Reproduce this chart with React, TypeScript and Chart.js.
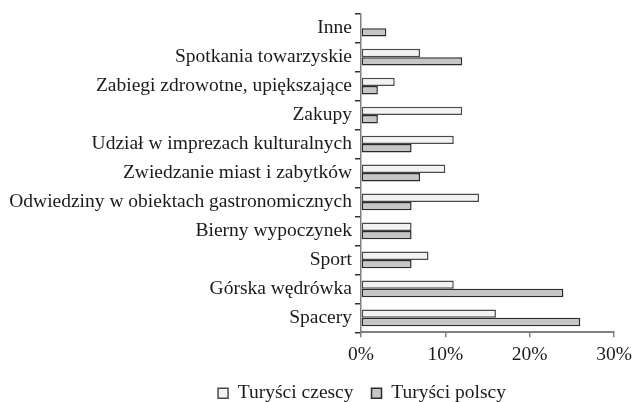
import React, { useEffect, useRef } from "react";
import { Chart, registerables } from "chart.js";

Chart.register(...registerables);

const categories = [
  "Inne",
  "Spotkania towarzyskie",
  "Zabiegi zdrowotne, upiększające",
  "Zakupy",
  "Udział w imprezach kulturalnych",
  "Zwiedzanie miast i zabytków",
  "Odwiedziny w obiektach gastronomicznych",
  "Bierny wypoczynek",
  "Sport",
  "Górska wędrówka",
  "Spacery",
];
const czechTourists = [null, 7, 4, 12, 11, 10, 14, 6, 8, 11, 16];
const polishTourists = [3, 12, 2, 2, 6, 7, 6, 6, 6, 24, 26];
const seriesNames = ["Turyści czescy", "Turyści polscy"];
const xMin = 0;
const xMax = 30;
const xStep = 10;

const FONT = '"Liberation Serif", "Times New Roman", serif';
const FONT_SIZE = 19.5;
const TEXT = "#1a1a1a";

const W = 632;
const H = 402;
const PLOT_LEFT = 361;
const PLOT_RIGHT = 614;
const PLOT_TOP = 13.7;
const PLOT_BOTTOM = 332.3;
const LEGEND_SHIFT = 46;
const LEGEND_TOP = 365.5;

const layoutFix = {
  id: "layoutFix",
  beforeDraw(chart: any) {
    const l = chart.legend;
    if (l) {
      const h = l.height;
      l.left = LEGEND_SHIFT;
      l.right = chart.width + LEGEND_SHIFT;
      l.top = LEGEND_TOP;
      l.bottom = LEGEND_TOP + h;
    }
    const x = chart.scales.x;
    if (x) x.bottom = H;
  },
};

export default function App() {
  const ref = useRef<HTMLCanvasElement | null>(null);
  useEffect(() => {
    if (!ref.current) return;
    const chart = new Chart(ref.current, {
      type: "bar",
      data: {
        labels: categories,
        datasets: [
          {
            label: seriesNames[0],
            data: czechTourists,
            backgroundColor: "#f2f2f2",
            borderColor: "#4a4a4a",
            borderWidth: 1.5,
            borderSkipped: false,
            categoryPercentage: 0.58,
            barPercentage: 1,
          },
          {
            label: seriesNames[1],
            data: polishTourists,
            backgroundColor: "#c6c6c6",
            borderColor: "#2a2a2a",
            borderWidth: 1.5,
            borderSkipped: false,
            categoryPercentage: 0.58,
            barPercentage: 1,
          },
        ],
      },
      options: {
        indexAxis: "y",
        responsive: false,
        animation: false,
        layout: { padding: { left: 0, top: PLOT_TOP, right: 0, bottom: 0 } },
        plugins: {
          tooltip: { enabled: false },
          legend: {
            position: "bottom",
            labels: {
              boxWidth: 10,
              boxHeight: 10,
              padding: 18,
              color: TEXT,
              font: { family: FONT, size: FONT_SIZE },
            },
          },
        },
        scales: {
          x: {
            min: xMin,
            max: xMax,
            afterFit(scale: any) {
              const lh = scale.chart.legend ? scale.chart.legend.height : 0;
              scale.height = H - PLOT_BOTTOM - lh;
              scale.paddingLeft = 0;
              scale.paddingRight = W - PLOT_RIGHT;
            },
            border: { display: true, color: "#808080", width: 2 },
            grid: {
              display: true,
              drawOnChartArea: false,
              drawTicks: true,
              tickLength: 5,
              color: "#808080",
              lineWidth: 1.5,
            },
            ticks: {
              stepSize: xStep,
              color: TEXT,
              padding: 6,
              maxRotation: 0,
              font: { family: FONT, size: FONT_SIZE },
              callback: (v: any) => v + "%",
            },
          },
          y: {
            afterFit(scale: any) {
              scale.width = PLOT_LEFT;
              scale.paddingTop = 0;
              scale.paddingBottom = 0;
            },
            border: { display: true, color: "#808080", width: 1.5 },
            grid: {
              display: true,
              offset: true,
              drawOnChartArea: false,
              drawTicks: true,
              tickLength: 6,
              color: "#333333",
              lineWidth: 1.5,
            },
            ticks: {
              color: TEXT,
              padding: 3,
              autoSkip: false,
              font: { family: FONT, size: FONT_SIZE },
            },
          },
        },
      },
      plugins: [layoutFix],
    } as any);
    return () => chart.destroy();
  }, []);
  return (
    <div style={{ position: "fixed", left: 0, top: 0, width: W, height: H, background: "#fff" }}>
      <canvas ref={ref} width={W} height={H} style={{ display: "block" }} />
    </div>
  );
}
